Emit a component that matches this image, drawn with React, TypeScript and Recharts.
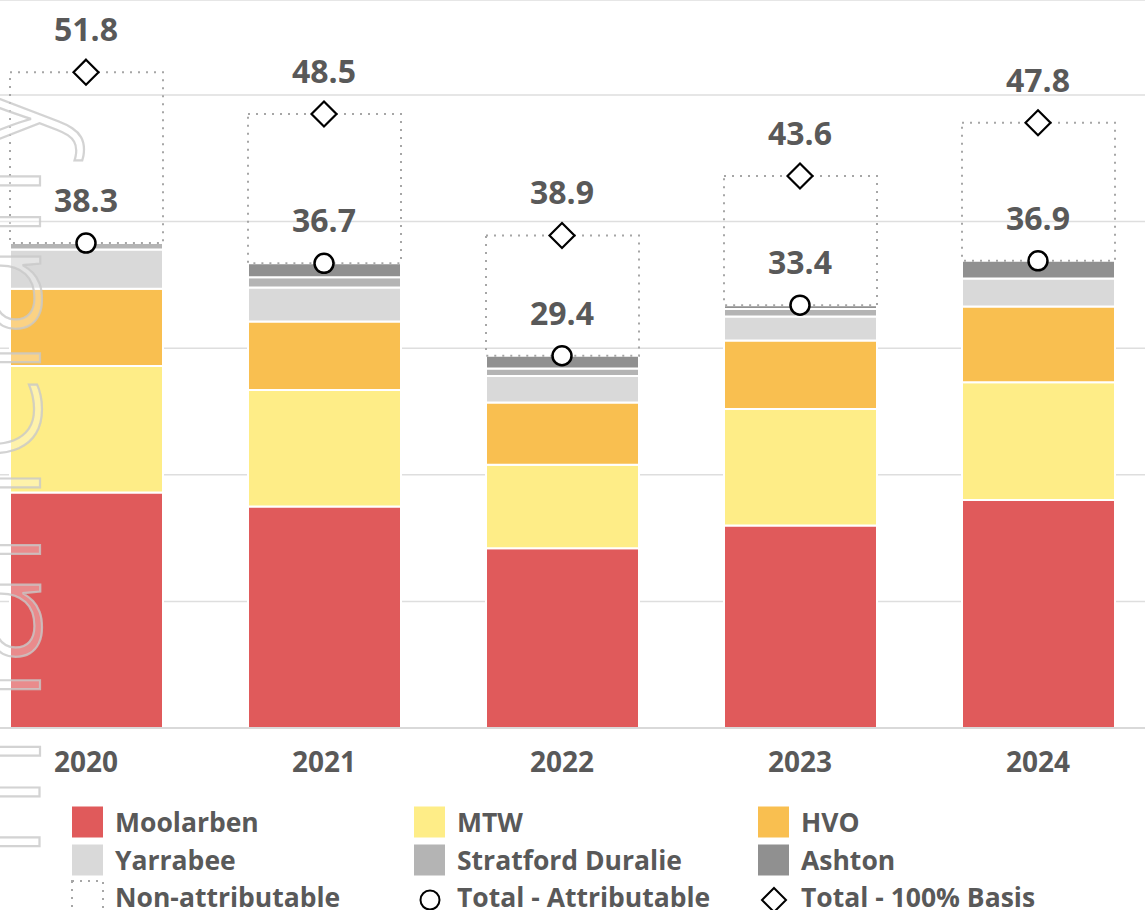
import React from 'react';
import { ComposedChart, Bar, Line, XAxis, YAxis, CartesianGrid, LabelList } from 'recharts';

const years = ['2020', '2021', '2022', '2023', '2024'];
const moolarben = [18.6, 17.5, 14.2, 16.0, 18.0];
const mtw = [10.0, 9.2, 6.6, 9.2, 9.3];
const hvo = [6.1, 5.4, 4.9, 5.4, 6.0];
const yarrabee = [3.1, 2.7, 2.1, 1.9, 2.2];
const stratford = [0.5, 0.8, 0.6, 0.6, 0];
const ashton = [0, 1.1, 1.0, 0.3, 1.4];
const nonAttributable = [13.5, 11.8, 9.5, 10.2, 10.9];
const totalAttributable = [38.3, 36.7, 29.4, 33.4, 36.9];
const total100 = [51.8, 48.5, 38.9, 43.6, 47.8];
const yTicks = [0, 10, 20, 30, 40, 50];

const FONT = '"Open Sans", Lato, sans-serif';
const TEXT = '#595959';

const colors = {
  moolarben: '#e05a5b',
  mtw: '#feed87',
  hvo: '#f9bf50',
  yarrabee: '#d9d9d9',
  stratford: '#b4b4b4',
  ashton: '#909090',
};

const data = years.map((year, i) => ({
  year,
  moolarben: moolarben[i],
  mtw: mtw[i],
  hvo: hvo[i],
  yarrabee: yarrabee[i],
  stratford: stratford[i],
  ashton: ashton[i],
  nonAttributable: nonAttributable[i],
  totalAttributable: totalAttributable[i],
  total100: total100[i],
}));

const YearTick = (props: any) => {
  const { x, y, payload } = props;
  return (
    <text x={x} y={y} dy={36} textAnchor="middle" fill={TEXT} fontSize={28} fontWeight={700} fontFamily={FONT}>
      {payload.value}
    </text>
  );
};

const ValueLabel = (props: any) => {
  const { x, y, value } = props;
  return (
    <text x={x} y={y - 31} textAnchor="middle" fill={TEXT} fontSize={32} fontWeight={700} fontFamily={FONT}>
      {Number(value).toFixed(1)}
    </text>
  );
};

const CircleDot = (props: any) => (
  <circle key={`c-${props.index}`} cx={props.cx} cy={props.cy} r={9.5} fill="#fff" stroke="#000" strokeWidth={2.5} />
);

const DiamondDot = (props: any) => {
  const { cx, cy, index } = props;
  const h = 12.5;
  return (
    <path
      key={`d-${index}`}
      d={`M${cx},${cy - h} L${cx + h},${cy} L${cx},${cy + h} L${cx - h},${cy} Z`}
      fill="#fff"
      stroke="#000"
      strokeWidth={2.2}
    />
  );
};

const legendItems = [
  { label: 'Moolarben', kind: 'box', color: colors.moolarben },
  { label: 'MTW', kind: 'box', color: colors.mtw },
  { label: 'HVO', kind: 'box', color: colors.hvo },
  { label: 'Yarrabee', kind: 'box', color: colors.yarrabee },
  { label: 'Stratford Duralie', kind: 'box', color: colors.stratford },
  { label: 'Ashton', kind: 'box', color: colors.ashton },
  { label: 'Non-attributable', kind: 'dotted', color: '#a6a6a6' },
  { label: 'Total - Attributable', kind: 'circle', color: '#000' },
  { label: 'Total - 100% Basis', kind: 'diamond', color: '#000' },
];

const colX = [72, 414, 758];
const rowY = [822, 860, 897];

const LegendSvg = () => (
  <svg width={1145} height={910} style={{ position: 'absolute', left: 0, top: 0, pointerEvents: 'none' }}>
    {legendItems.map((item, i) => {
      const x = colX[i % 3];
      const cy = rowY[Math.floor(i / 3)];
      let icon: React.ReactNode = null;
      if (item.kind === 'box') {
        icon = <rect x={x} y={cy - 15.5} width={31} height={31} fill={item.color} />;
      } else if (item.kind === 'dotted') {
        icon = (
          <rect x={x} y={cy - 16} width={31} height={34} fill="none" stroke={item.color} strokeWidth={2} strokeDasharray="2 6" />
        );
      } else if (item.kind === 'circle') {
        icon = <circle cx={x + 16} cy={cy + 3} r={9.5} fill="#fff" stroke="#000" strokeWidth={2} />;
      } else {
        const h = 12;
        const cx = x + 16;
        const c = cy + 3;
        icon = (
          <path d={`M${cx},${c - h} L${cx + h},${c} L${cx},${c + h} L${cx - h},${c} Z`} fill="#fff" stroke="#000" strokeWidth={2} />
        );
      }
      return (
        <g key={item.label}>
          {icon}
          <text x={x + 43} y={cy + 9.5} fill={TEXT} fontSize={26.5} fontWeight={700} fontFamily={FONT}>
            {item.label}
          </text>
        </g>
      );
    })}
  </svg>
);

const Watermark = () => (
  <svg width={1145} height={910} style={{ position: 'absolute', left: 0, top: 0, pointerEvents: 'none' }}>
    <text
      transform="translate(40,78) rotate(-90)"
      textAnchor="end"
      fontSize={180}
      fontWeight={300}
      fontFamily='"Open Sans", sans-serif'
      fill="rgba(255,255,255,0.3)"
      stroke="rgba(200,200,200,0.8)"
      strokeWidth={2.2}
    >
      financially
    </text>
  </svg>
);

const App = () => {
  return (
    <div style={{ position: 'absolute', left: 0, top: 0, width: 1145, height: 910, overflow: 'hidden', background: '#fff' }}>
      <div style={{ position: 'absolute', left: -33, top: 0 }}>
        <ComposedChart width={1190} height={800} data={data} margin={{ top: 0, right: 0, bottom: 0, left: 0 }}>
          <CartesianGrid vertical={false} stroke="#dedede" strokeWidth={1.5} />
          <XAxis
            dataKey="year"
            height={72}
            axisLine={{ stroke: '#d9d9d9', strokeWidth: 2 }}
            tickLine={false}
            tick={<YearTick />}
            interval={0}
          />
          <YAxis hide domain={[0, 57.5]} ticks={yTicks} />
          <Bar dataKey="moolarben" stackId="a" fill={colors.moolarben} stroke="#fff" strokeWidth={2} barSize={153} isAnimationActive={false} />
          <Bar dataKey="mtw" stackId="a" fill={colors.mtw} stroke="#fff" strokeWidth={2} barSize={153} isAnimationActive={false} />
          <Bar dataKey="hvo" stackId="a" fill={colors.hvo} stroke="#fff" strokeWidth={2} barSize={153} isAnimationActive={false} />
          <Bar dataKey="yarrabee" stackId="a" fill={colors.yarrabee} stroke="#fff" strokeWidth={2} barSize={153} isAnimationActive={false} />
          <Bar dataKey="stratford" stackId="a" fill={colors.stratford} stroke="#fff" strokeWidth={2} barSize={153} isAnimationActive={false} />
          <Bar dataKey="ashton" stackId="a" fill={colors.ashton} stroke="#fff" strokeWidth={2} barSize={153} isAnimationActive={false} />
          <Bar
            dataKey="nonAttributable"
            stackId="a"
            fill="none"
            stroke="#a6a6a6"
            strokeWidth={2}
            strokeDasharray="2 6"
            barSize={153}
            isAnimationActive={false}
          />
          <Line dataKey="totalAttributable" stroke="none" dot={CircleDot} activeDot={false} isAnimationActive={false}>
            <LabelList dataKey="totalAttributable" content={ValueLabel} />
          </Line>
          <Line dataKey="total100" stroke="none" dot={DiamondDot} activeDot={false} isAnimationActive={false}>
            <LabelList dataKey="total100" content={ValueLabel} />
          </Line>
        </ComposedChart>
      </div>
      <LegendSvg />
      <Watermark />
    </div>
  );
};

export default App;
